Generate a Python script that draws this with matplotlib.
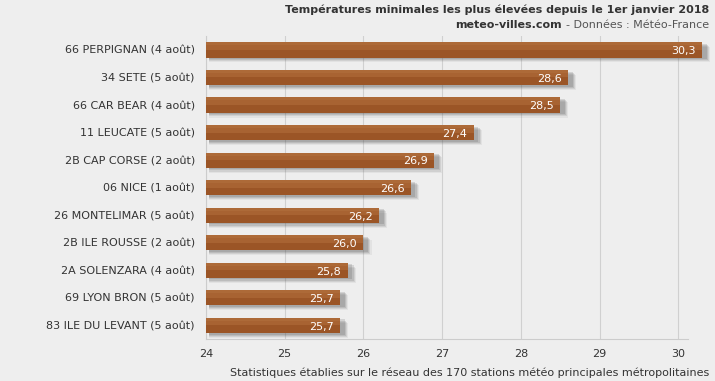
import matplotlib
matplotlib.use("Agg")
import matplotlib.pyplot as plt
import numpy as np

stations = ["66 PERPIGNAN (4 août)", "34 SETE (5 août)", "66 CAR BEAR (4 août)",
            "11 LEUCATE (5 août)", "2B CAP CORSE (2 août)", "06 NICE (1 août)",
            "26 MONTELIMAR (5 août)", "2B ILE ROUSSE (2 août)", "2A SOLENZARA (4 août)",
            "69 LYON BRON (5 août)", "83 ILE DU LEVANT (5 août)"]
temps = [30.3, 28.6, 28.5, 27.4, 26.9, 26.6, 26.2, 26.0, 25.8, 25.7, 25.7]
ticks = [24, 25, 26, 27, 28, 29, 30]

bg = "#eeeeee"
plt.rcParams['font.family'] = ['DejaVu Sans']
fig = plt.figure(figsize=(7.15, 3.81), dpi=100, facecolor=bg)
ax = fig.add_axes([0.288, 0.110, 0.674, 0.795], facecolor=bg)

base = 24
y = np.arange(len(stations))
w = np.array(temps) - base
h = 0.55
# ombre floue
for k, a in zip([0.06, 0.10, 0.14, 0.18], [0.18, 0.16, 0.12, 0.08]):
    ax.barh(y + k, w + k * 0.35, left=base + 0.04, height=h,
            color="#555555", alpha=a, zorder=2, clip_on=False, linewidth=0)
ax.barh(y, w, left=base, height=h, color="#9b5526", zorder=3, clip_on=False, linewidth=0)
# reflet haut
ax.barh(y - h * 0.25, w, left=base, height=h * 0.5,
        color="#a86332", zorder=3, clip_on=False, linewidth=0)
ax.barh(y - h * 0.4, w, left=base, height=h * 0.2,
        color="#ad6a38", zorder=3, clip_on=False, linewidth=0)

for yi, t in zip(y, temps):
    ax.text(t - 0.08, yi + 0.05, f"{t:.1f}".replace(".", ","), ha="right", va="center",
            color="white", fontsize=8, zorder=4)

ax.set_xlim(24, 30.12)
ax.set_ylim(len(stations) - 0.5, -0.5)
ax.set_yticks(y)
ax.set_yticklabels(stations, fontsize=8, color="#333333")
ax.set_xticks(ticks)
ax.set_xticklabels([str(t) for t in ticks], fontsize=8, color="#333333")
ax.tick_params(axis="both", length=0, pad=8)
ax.tick_params(axis="x", pad=7)
ax.grid(axis="x", color="#d0d0d0", linewidth=0.8, zorder=0)
for s in ["top", "right"]:
    ax.spines[s].set_visible(False)
ax.spines["left"].set_color("#cccccc")
ax.spines["bottom"].set_color("#cccccc")

fig.text(0.992, 0.975, "Températures minimales les plus élevées depuis le 1er janvier 2018",
         ha="right", va="center", fontsize=8, fontweight="bold", color="#333333")
t2 = fig.text(0.992, 0.935, "- Données : Météo-France", ha="right", va="center",
              fontsize=8, color="#555555")
fig.canvas.draw()
bb = t2.get_window_extent()
fig.text((bb.x0 - 4) / fig.bbox.width, 0.935, "meteo-villes.com", ha="right", va="center",
         fontsize=8, fontweight="bold", color="#333333")
fig.text(0.992, 0.022, "Statistiques établies sur le réseau des 170 stations météo principales métropolitaines",
         ha="right", va="center", fontsize=8, color="#333333")

fig.savefig("out.png", dpi=100, facecolor=bg)
